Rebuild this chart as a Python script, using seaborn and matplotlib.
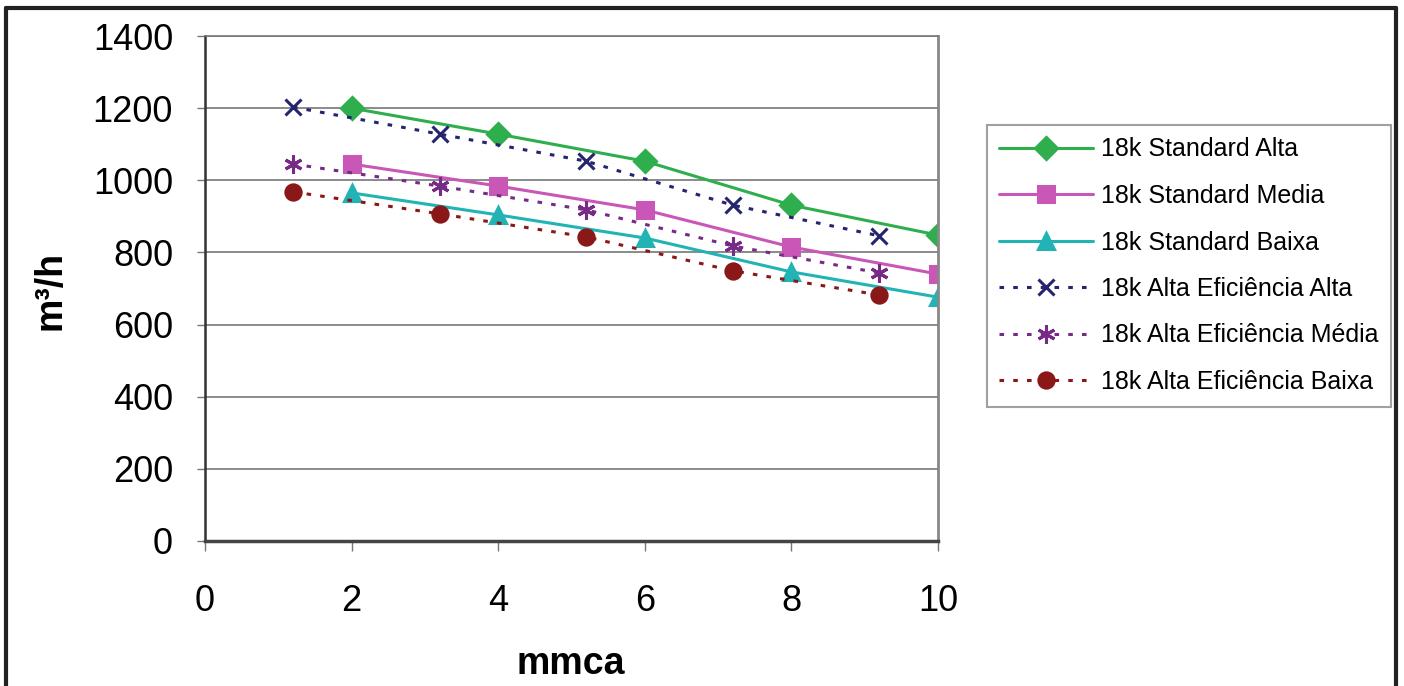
import pandas as pd
import seaborn as sns
import matplotlib.pyplot as plt
from matplotlib.lines import Line2D

# values
x_standard = [2, 4, 6, 8, 10]
x_alta_ef = [1.2, 3.2, 5.2, 7.2, 9.2]

std_alta = [1200, 1128, 1053, 931, 848]
std_media = [1045, 984, 918, 815, 740]
std_baixa = [965, 904, 840, 746, 676]
ef_alta = [1203, 1128, 1053, 931, 846]
ef_media = [1045, 984, 918, 818, 743]
ef_baixa = [968, 907, 843, 749, 682]

labels = ["18k Standard Alta", "18k Standard Media", "18k Standard Baixa",
          "18k Alta Eficiência Alta", "18k Alta Eficiência Média", "18k Alta Eficiência Baixa"]
y_ticks = [0, 200, 400, 600, 800, 1000, 1200, 1400]
x_ticks = [0, 2, 4, 6, 8, 10]

sns.set_style("white")
plt.rcParams['font.family'] = ['Liberation Sans', 'DejaVu Sans']
plt.rcParams['text.color'] = 'black'
plt.rcParams['xtick.labelcolor'] = 'black'
plt.rcParams['ytick.labelcolor'] = 'black'

series = [
    (x_standard, std_alta, "#2fae4e", "D", "-", 11),
    (x_standard, std_media, "#c957b8", "s", "-", 11),
    (x_standard, std_baixa, "#22b3b5", "^", "-", 11),
    (x_alta_ef, ef_alta, "#25256f", "x", (0, (1.5, 3)), 12),
    (x_alta_ef, ef_media, "#772a86", (6, 2, 0), (0, (1.5, 3)), 13),
    (x_alta_ef, ef_baixa, "#8b1818", "o", (0, (1.5, 3)), 11),
]

fig = plt.figure(figsize=(14.04, 6.86), dpi=100)
ax = fig.add_axes([205 / 1404, 1 - 541 / 686, (938 - 205) / 1404, (541 - 36) / 686])

handles = []
for (xs, ys, col, mk, ls, ms), lab in zip(series, labels):
    df = pd.DataFrame({"mmca": xs, "vazao": ys})
    sns.lineplot(data=df, x="mmca", y="vazao", ax=ax, color=col, marker=mk,
                 linestyle=ls, linewidth=2.2, markersize=ms, markeredgewidth=2.2,
                 markeredgecolor=col, label=lab, legend=False)
    handles.append(Line2D([], [], color=col, marker=mk, linestyle=ls, linewidth=2.2,
                          markersize=ms, markeredgewidth=2.2, markeredgecolor=col))

ax.set_xlim(0, 10)
ax.set_ylim(0, 1400)
ax.set_xticks(x_ticks)
ax.set_yticks(y_ticks)
ax.yaxis.grid(True, color="#777777", linewidth=1.2)
ax.xaxis.grid(False)

ax.spines["left"].set_color("#333333")
ax.spines["left"].set_linewidth(1.8)
ax.spines["bottom"].set_color("#444444")
ax.spines["bottom"].set_linewidth(2.5)
ax.spines["top"].set_color("#777777")
ax.spines["top"].set_linewidth(1.2)
ax.spines["right"].set_color("#888888")
ax.spines["right"].set_linewidth(2)

ax.tick_params(axis="x", direction="out", length=7, width=1, color="#777777",
               pad=24, labelsize=26, bottom=True)
ax.tick_params(axis="y", direction="out", length=6, width=1, color="#777777",
               pad=17, labelsize=26, left=True)

ax.set_xlabel("")
ax.set_ylabel("")
fig.text(571 / 1404, 1 - 664 / 686, "mmca", fontsize=27, fontweight="bold",
         ha="center", va="center")
fig.text(50 / 1404, 1 - 290 / 686, "m³/h", fontsize=27, fontweight="bold",
         ha="center", va="center", rotation=90)

leg = fig.legend(handles, labels, loc="upper left",
                 bbox_to_anchor=(987 / 1404, 1 - 125 / 686), fontsize=18,
                 frameon=True, fancybox=False, edgecolor="#888888",
                 handlelength=3.75, labelspacing=0.9, borderpad=0.5,
                 handletextpad=0.3, borderaxespad=0)
leg.get_frame().set_linewidth(1.5)

# outer chart border
border = dict(color="#222222", linewidth=3, transform=fig.transFigure)
fig.add_artist(Line2D([6 / 1404, 6 / 1404], [0, 1 - 8 / 686], **border))
fig.add_artist(Line2D([6 / 1404, 1396 / 1404], [1 - 8 / 686, 1 - 8 / 686], **border))
fig.add_artist(Line2D([1396 / 1404, 1396 / 1404], [0, 1 - 8 / 686], **border))

fig.savefig("out.png", dpi=100)
